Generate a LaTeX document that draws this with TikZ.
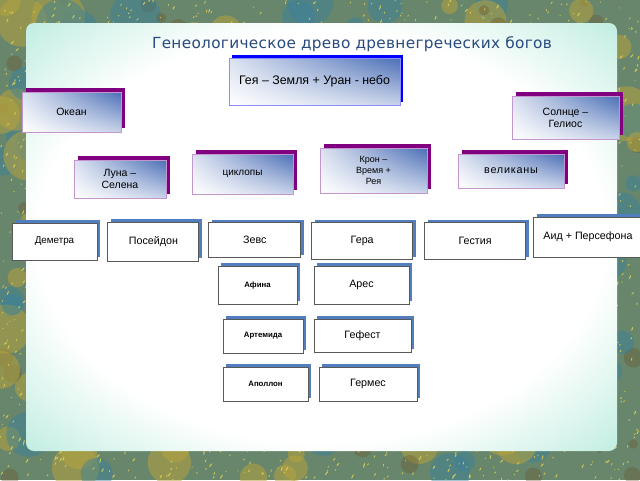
\documentclass[tikz,border=0pt]{standalone}
\usepackage{fontspec}
\setmainfont{Liberation Sans}
\newfontfamily\titlefont{DejaVu Sans}[LetterSpace=2]
\usetikzlibrary{positioning,shadows,shadings}

\definecolor{framecol}{RGB}{104,134,108}
\definecolor{frameteal}{RGB}{55,128,158}
\definecolor{frameolive}{RGB}{182,162,62}
\definecolor{framebrown}{RGB}{104,84,42}
\definecolor{speckcol}{RGB}{226,210,84}
\definecolor{mintcol}{RGB}{110,214,184}
\definecolor{titlecol}{RGB}{40,74,124}
\definecolor{gradblue}{RGB}{74,110,182}
\definecolor{plumline}{RGB}{196,150,206}
\definecolor{plumshadow}{RGB}{128,0,128}
\definecolor{geyaline}{RGB}{140,140,250}
\definecolor{steelshadow}{RGB}{82,126,192}

\pgfdeclareradialshading{panelshade}{\pgfpoint{0bp}{0bp}}{color(0bp)=(white); color(24bp)=(white); color(44bp)=(mintcol!75!white); color(50bp)=(mintcol); color(80bp)=(mintcol)}

\tikzset{
	gradbox/.style={line width=0.9pt, inner sep=1pt, align=center,
		lower left=white, upper right=gradblue, upper left=gradblue!20!white, lower right=gradblue!30!white,
		font=\fontsize{10.5}{12}\selectfont},
	godbox/.style={gradbox, draw=plumline,
		general shadow={fill=plumshadow, shadow xshift=4pt, shadow yshift=4pt}},
	geyabox/.style={gradbox, draw=geyaline,
		general shadow={fill=blue, shadow xshift=3pt, shadow yshift=3pt}},
	kinbox/.style={draw=black!65, fill=white, line width=0.9pt, inner sep=1pt, align=center,
		general shadow={fill=steelshadow, shadow xshift=3pt, shadow yshift=3pt},
		font=\fontsize{10.7}{13}\selectfont},
	smallkin/.style={kinbox, font=\fontsize{7.8}{9}\bfseries\selectfont}
}

\begin{document}
\begin{tikzpicture}[x=1pt, y=-1pt, node distance=10pt]
	\useasboundingbox (0,0) rectangle (640,480);
	% textured frame
	\fill[framecol] (0,0) rectangle (640,480);
	\pgfmathsetseed{11}
	\begin{scope}
		\clip (0,0) rectangle (640,480);
		\foreach \i in {1,...,110} {
			\fill[frameteal, opacity=0.45] (rnd*640, rnd*480) circle[radius=8+18*rnd];
			\fill[frameolive, opacity=0.55] (rnd*640, rnd*480) circle[radius=8+20*rnd];
			\fill[framebrown, opacity=0.35] (rnd*640, rnd*480) circle[radius=3+8*rnd];
		}
		\foreach \i in {1,...,2200}
			\fill[speckcol, opacity=0.85] (rnd*640, rnd*480) ellipse[x radius=0.6+1.8*rnd, y radius=0.6, rotate=40+40*rnd];
	\end{scope}
	% panel
	\shade[shading=panelshade, rounded corners=8pt] (26,23) rectangle (617,451);

	\node[text=titlecol, font=\titlefont\fontsize{15.3}{17}\selectfont] (title) at (352,44) {Генеологическое древо древнегреческих богов};

	% gods
	\node[geyabox, minimum width=171pt, minimum height=47pt, font=\fontsize{12.4}{14}\selectfont] (geya) at (314.5,81.5) {Гея – Земля + Уран - небо};
	\node[godbox, minimum width=99pt, minimum height=40pt] (okean) at (71.5,112) {Океан};
	\node[godbox, minimum width=107pt, minimum height=43pt] (solnce) at (565.5,117.5) {Солнце –\\Гелиос};
	\node[godbox, minimum width=92pt, minimum height=38pt] (luna) at (120,179) {Луна –\\Селена};
	\node[godbox, minimum width=101pt, minimum height=40pt, font=\fontsize{10}{12}\selectfont] (ciklopy) at (242.5,174) {циклопы};
	\node[godbox, minimum width=107pt, minimum height=45pt, font=\fontsize{9}{11}\selectfont] (kron) at (373.5,170.5) {Крон –\\Время +\\Рея};
	\node[godbox, minimum width=106pt, minimum height=34pt, font=\fontsize{10.8}{12}\selectfont\addfontfeature{LetterSpace=7}] (velikany) at (511,171) {великаны};

	% children of Kronos
	\node[kinbox, minimum width=85pt, minimum height=37pt, font=\fontsize{9.8}{11}\selectfont] (demetra) at (54.5,241.5) {Деметра};
	\node[kinbox, minimum width=91pt, minimum height=39pt, right=10pt of demetra] (poseidon) {Посейдон};
	\node[kinbox, minimum width=92pt, minimum height=35pt, right=9pt of poseidon, yshift=1.5pt] (zevs) {Зевс};
	\node[kinbox, minimum width=101pt, minimum height=37pt, right=10pt of zevs, yshift=-1pt] (gera) {Гера};
	\node[kinbox, minimum width=101pt, minimum height=37pt, right=11pt of gera] (gestiya) {Гестия};
	\node[kinbox, minimum width=109pt, minimum height=40pt, right=7pt of gestiya, yshift=4pt] (aid) {Аид + Персефона};

	% children of Zeus
	\node[smallkin, minimum width=79pt, minimum height=38pt] (afina) at (257.5,285) {Афина};
	\node[kinbox, minimum width=95pt, minimum height=38pt] (ares) at (361.5,285) {Арес};
	\node[smallkin, minimum width=80pt, minimum height=34pt] (artemida) at (263,336) {Артемида};
	\node[kinbox, minimum width=97pt, minimum height=33pt] (gefest) at (362.5,335.5) {Гефест};
	\node[smallkin, minimum width=85pt, minimum height=34pt] (apollon) at (265.5,384) {Аполлон};
	\node[kinbox, minimum width=98pt, minimum height=34pt] (germes) at (368,384) {Гермес};
\end{tikzpicture}
\end{document}
